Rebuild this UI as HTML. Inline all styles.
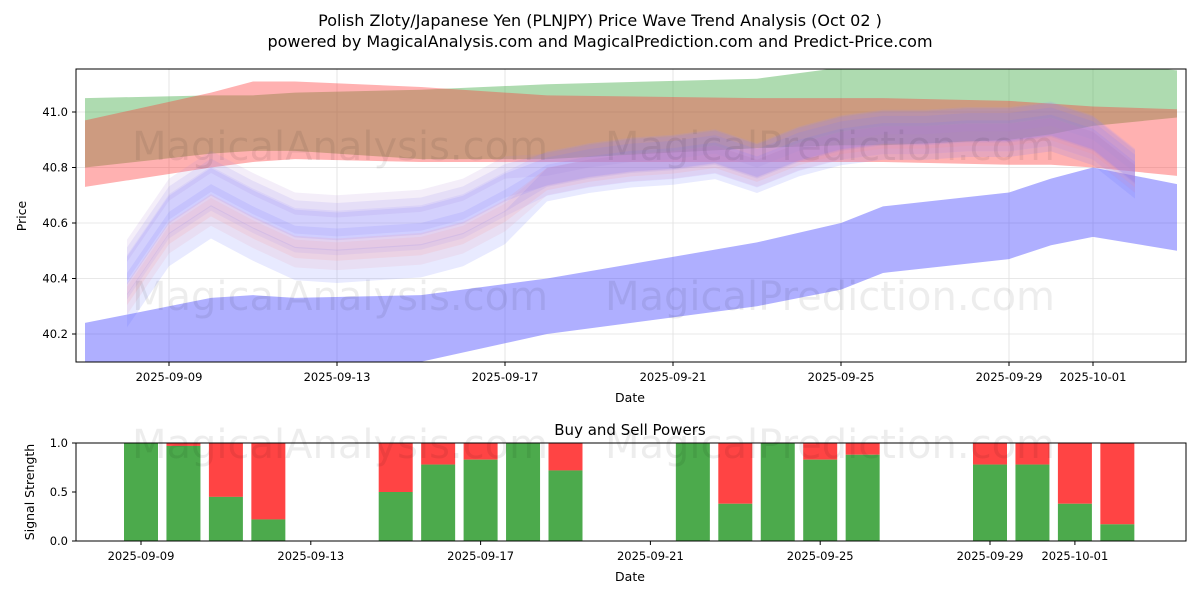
<!DOCTYPE html>
<html><head><meta charset="utf-8"><style>
body{margin:0;background:#fff;font-family:"Liberation Sans","DejaVu Sans",sans-serif;}
svg text{font-family:"DejaVu Sans","Liberation Sans",sans-serif;}
</style></head><body>
<svg id="c" width="1200" height="600" xmlns="http://www.w3.org/2000/svg">
<text x="600" y="26" text-anchor="middle" font-size="16">Polish Zloty/Japanese Yen (PLNJPY) Price Wave Trend Analysis (Oct 02 )</text>
<text x="600" y="47" text-anchor="middle" font-size="16">powered by MagicalAnalysis.com and MagicalPrediction.com and Predict-Price.com</text>
<g id="topPanel"></g>
<g id="botPanel"></g>
</svg>
<script>
// ---- data ----
const bandDays=[-2,1,2,3,6,9,14,16,17,20,21,22,24];
const greenUpper=[41.05,41.06,41.06,41.07,41.08,41.10,41.12,41.16,41.17,41.18,41.18,41.18,41.15];
const greenLower=[40.80,40.85,40.86,40.86,40.83,40.83,40.87,40.88,40.88,40.90,40.92,40.95,40.98];
const redUpper=[40.97,41.07,41.11,41.11,41.09,41.06,41.05,41.05,41.05,41.04,41.03,41.02,41.01];
const redLower=[40.73,40.80,40.82,40.83,40.82,40.82,40.82,40.82,40.82,40.81,40.81,40.80,40.77];
const blueUpper=[40.24,40.33,40.34,40.33,40.34,40.40,40.53,40.60,40.66,40.71,40.76,40.80,40.74];
const blueLower=[40.00,40.02,40.04,40.06,40.10,40.20,40.30,40.36,40.42,40.47,40.52,40.55,40.50];
const trendDays=[-1,0,1,2,3,4,5,6,7,8,9,10,11,12,13,14,15,16,17,18,19,20,21,22,23];
const trendCenter=[40.38,40.60,40.70,40.62,40.55,40.54,40.55,40.56,40.60,40.68,40.77,40.80,40.82,40.83,40.85,40.80,40.86,40.90,40.92,40.92,40.93,40.93,40.95,40.90,40.78];
const trendOffsets=[0,0.06,-0.05,0.10,-0.08,0.02,-0.03,0.04];
const trendWidths=[0.04,0.06,0.05,0.04,0.06,0.08,0.04,0.05];
const trendColors=["#6a6cff","#8a7cf0","#ff9a9a","#b08ad8","#5a6cff","#9f90ff","#ff8f8f","#7a7aff"];
const xTickDays=[0,4,8,12,16,20,22];
const xTickLabels=["2025-09-09","2025-09-13","2025-09-17","2025-09-21","2025-09-25","2025-09-29","2025-10-01"];
const yTicks=[40.2,40.4,40.6,40.8,41.0];
const sigDays=[0,1,2,3,6,7,8,9,10,13,14,15,16,17,20,21,22,23];
const sigBuy=[1.0,0.97,0.45,0.22,0.5,0.78,0.83,1.0,0.72,1.0,0.38,1.0,0.83,0.88,0.78,0.78,0.38,0.17];
const sigTicks=[0,0.5,1.0];

const NS="http://www.w3.org/2000/svg";
function mk(p,t,a){const e=document.createElementNS(NS,t);for(const k in a)e.setAttribute(k,a[k]);p.appendChild(e);return e;}
const topG=document.getElementById('topPanel'),botG=document.getElementById('botPanel');
const X=d=>169+d*42, Y=v=>112+(41.0-v)*277.5;
const BX=d=>141+d*42.45, BY=v=>541-v*98;
const defs=mk(topG,'defs',{});const cp=mk(defs,'clipPath',{id:'cl'});mk(cp,'rect',{x:76,y:69,width:1110,height:293});
yTicks.forEach(v=>{const l=mk(topG,'line',{x1:76,x2:1186,y1:Y(v),y2:Y(v),stroke:'#e0e0e0','stroke-width':0.8});});
xTickDays.forEach(d=>{const l=mk(topG,'line',{x1:X(d),x2:X(d),y1:69,y2:362,stroke:'#e0e0e0','stroke-width':0.8});});
const g=mk(topG,'g',{'clip-path':'url(#cl)'});
function band(days,up,lo,col,op,name){
 let pts=days.map((d,i)=>X(d)+','+Y(up[i]));
 for(let i=days.length-1;i>=0;i--)pts.push(X(days[i])+','+Y(lo[i]));
 const p=mk(g,'polygon',{points:pts.join(' '),fill:col,'fill-opacity':op});
 
 
}
band(bandDays,greenUpper,greenLower,'#4caf50',0.45,'green-band');
band(bandDays,redUpper,redLower,'#ff3333',0.38,'red-band');
band(bandDays,blueUpper,blueLower,'#4040ff',0.42,'blue-band');
trendOffsets.forEach((o,k)=>{
 const w=trendWidths[k];
 const up=trendCenter.map((v,i)=>v+o*(i<10?1.2:0.4)+w);
 const lo=trendCenter.map((v,i)=>v+o*(i<10?1.2:0.4)-w);
 band(trendDays,up,lo,trendColors[k],0.14,'trend-band');
});
[[340,160],[830,160],[340,310],[830,310]].forEach((p,i)=>{const t=mk(topG,'text',{x:p[0],y:p[1],'text-anchor':'middle','font-size':40,fill:'#000','fill-opacity':0.07});t.textContent=i%2?'MagicalPrediction.com':'MagicalAnalysis.com';});
mk(topG,'rect',{x:76,y:69,width:1110,height:293,fill:'none',stroke:'#000','stroke-width':1});
yTicks.forEach(v=>{mk(topG,'line',{x1:72,x2:76,y1:Y(v),y2:Y(v),stroke:'#000'});const t=mk(topG,'text',{x:68,y:Y(v)+4,'text-anchor':'end','font-size':11.5});t.textContent=v.toFixed(1);});
xTickDays.forEach((d,i)=>{mk(topG,'line',{x1:X(d),x2:X(d),y1:362,y2:366,stroke:'#000'});const t=mk(topG,'text',{x:X(d),y:381,'text-anchor':'middle','font-size':11.5});t.textContent=xTickLabels[i];});
let t=mk(topG,'text',{x:630,y:402,'text-anchor':'middle','font-size':12.5});t.textContent='Date';
t=mk(topG,'text',{x:26,y:216,'text-anchor':'middle','font-size':12.5,transform:'rotate(-90 26 216)'});t.textContent='Price';
t=mk(botG,'text',{x:630,y:435,'text-anchor':'middle','font-size':15});t.textContent='Buy and Sell Powers';
sigDays.forEach((d,i)=>{
 const x=BX(d)-17,b=sigBuy[i];
 const r=mk(botG,'rect',{x:x,y:BY(1),width:34,height:BY(b)-BY(1),fill:'#ff4444'});
 
 
 const gr=mk(botG,'rect',{x:x,y:BY(b),width:34,height:BY(0)-BY(b),fill:'#4caa4c'});
 
 
});
[[340,458],[830,458]].forEach((p,i)=>{const w=mk(botG,'text',{x:p[0],y:p[1],'text-anchor':'middle','font-size':40,fill:'#000','fill-opacity':0.07});w.textContent=i?'MagicalPrediction.com':'MagicalAnalysis.com';});
mk(botG,'rect',{x:76,y:443,width:1110,height:98,fill:'none',stroke:'#000','stroke-width':1});
sigTicks.forEach(v=>{mk(botG,'line',{x1:72,x2:76,y1:BY(v),y2:BY(v),stroke:'#000'});const s=mk(botG,'text',{x:68,y:BY(v)+4,'text-anchor':'end','font-size':11.5});s.textContent=v.toFixed(1);});
xTickDays.forEach((d,i)=>{mk(botG,'line',{x1:BX(d),x2:BX(d),y1:541,y2:545,stroke:'#000'});const s=mk(botG,'text',{x:BX(d),y:560,'text-anchor':'middle','font-size':11.5});s.textContent=xTickLabels[i];});
t=mk(botG,'text',{x:630,y:581,'text-anchor':'middle','font-size':12.5});t.textContent='Date';
t=mk(botG,'text',{x:34,y:492,'text-anchor':'middle','font-size':12.5,transform:'rotate(-90 34 492)'});t.textContent='Signal Strength';
</script>
</body></html>
